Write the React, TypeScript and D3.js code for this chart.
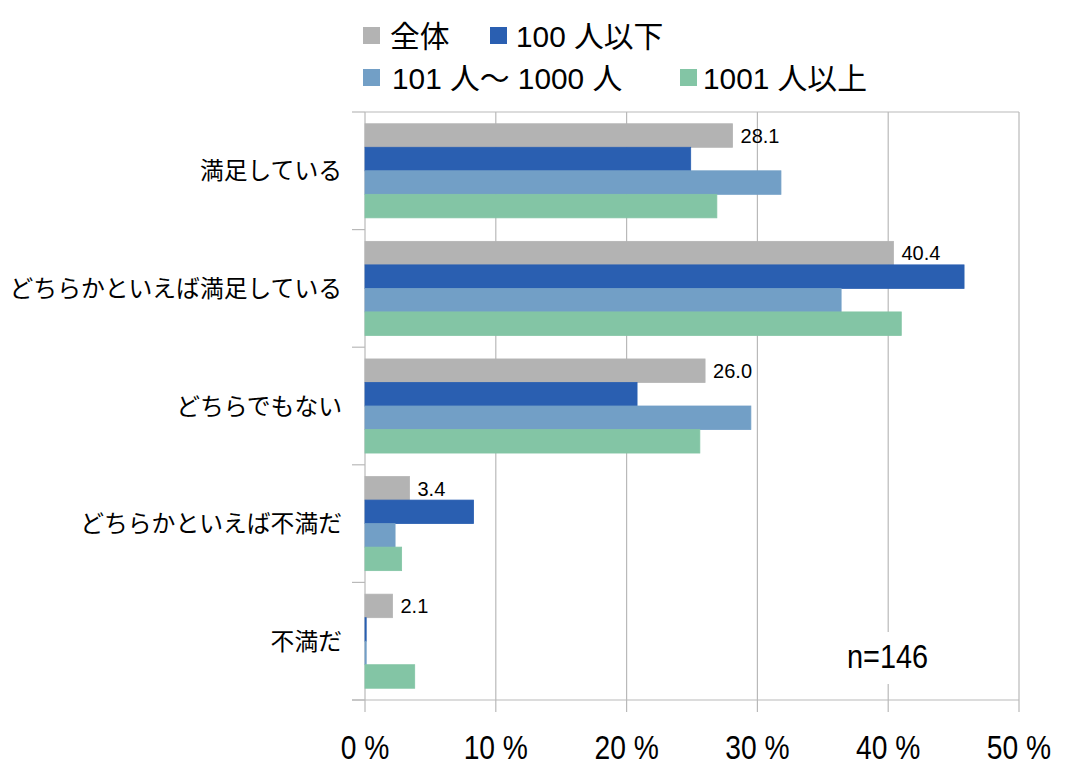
import * as d3 from "d3";
import { useEffect, useRef } from "react";

const categories = [
  "満足している",
  "どちらかといえば満足している",
  "どちらでもない",
  "どちらかといえば不満だ",
  "不満だ",
];

const seriesNames = ["全体", "100 人以下", "101 人〜 1000 人", "1001 人以上"];
const seriesColors = ["#b3b3b3", "#2a5fb1", "#729fc6", "#83c5a5"];

const totalValues = [28.1, 40.4, 26.0, 3.4, 2.1];
const smallValues = [24.9, 45.8, 20.8, 8.3, 0];
const midValues = [31.8, 36.4, 29.5, 2.3, 0];
const largeValues = [26.9, 41.0, 25.6, 2.8, 3.8];

const xTicks = [0, 10, 20, 30, 40, 50];
const sampleNote = "n=146";

const LATIN = "'Liberation Sans', 'Noto Sans CJK JP', sans-serif";

export default function App() {
  const ref = useRef<SVGSVGElement | null>(null);

  useEffect(() => {
    if (!ref.current) return;
    const svg = d3.select(ref.current);
    svg.selectAll("*").remove();

    const W = 1068;
    const H = 780;
    const plot = { left: 365, right: 1019, top: 112, bottom: 700 };

    svg.attr("width", W).attr("height", H);

    const allSeries = [totalValues, smallValues, midValues, largeValues];

    const x = d3.scaleLinear().domain([0, 50]).range([plot.left, plot.right]);
    const y = d3
      .scaleBand<string>()
      .domain(categories)
      .range([plot.top, plot.bottom])
      .padding(0);
    const ySub = d3
      .scaleBand<string>()
      .domain(seriesNames)
      .range([0, y.bandwidth()])
      .paddingInner(0)
      .paddingOuter(0.5);

    const grid = "#b9b9b9";

    // vertical gridlines
    svg
      .append("g")
      .selectAll("line")
      .data(xTicks.slice(1))
      .enter()
      .append("line")
      .attr("x1", (d) => x(d))
      .attr("x2", (d) => x(d))
      .attr("y1", plot.top)
      .attr("y2", plot.bottom + 12)
      .attr("stroke", grid)
      .attr("stroke-width", 1.2);

    // top border
    svg
      .append("line")
      .attr("x1", plot.left)
      .attr("x2", plot.right)
      .attr("y1", plot.top)
      .attr("y2", plot.top)
      .attr("stroke", grid)
      .attr("stroke-width", 1.2);

    // left axis + category ticks
    svg
      .append("line")
      .attr("x1", plot.left)
      .attr("x2", plot.left)
      .attr("y1", plot.top)
      .attr("y2", plot.bottom + 12)
      .attr("stroke", grid)
      .attr("stroke-width", 1.2);

    const bounds = categories.map((c) => y(c)!).concat([plot.bottom]);
    svg
      .append("g")
      .selectAll("line")
      .data(bounds)
      .enter()
      .append("line")
      .attr("x1", plot.left - 13)
      .attr("x2", plot.left)
      .attr("y1", (d) => d)
      .attr("y2", (d) => d)
      .attr("stroke", grid)
      .attr("stroke-width", 1.2);

    svg
      .append("line")
      .attr("x1", plot.left - 13)
      .attr("x2", plot.right)
      .attr("y1", plot.bottom)
      .attr("y2", plot.bottom)
      .attr("stroke", grid)
      .attr("stroke-width", 1.2);

    // bars (zero values still show as a hairline, like the original)
    allSeries.forEach((vals, si) => {
      const name = seriesNames[si];
      svg
        .append("g")
        .selectAll("rect")
        .data(vals)
        .enter()
        .append("rect")
        .attr("x", x(0))
        .attr("y", (_, i) => y(categories[i])! + ySub(name)!)
        .attr("width", (d) => Math.max(x(d) - x(0), 1.2))
        .attr("height", ySub.bandwidth())
        .attr("fill", seriesColors[si])
        .attr("stroke", seriesColors[si])
        .attr("stroke-width", 0.8);
    });

    // value labels for 全体
    svg
      .append("g")
      .selectAll("text")
      .data(totalValues)
      .enter()
      .append("text")
      .attr("x", (d) => x(d) + 8)
      .attr("y", (_, i) => y(categories[i])! + ySub(seriesNames[0])! + ySub.bandwidth() / 2)
      .attr("dy", "0.36em")
      .attr("font-family", LATIN)
      .attr("font-size", 20)
      .attr("fill", "#000")
      .text((d) => d.toFixed(1));

    // category labels
    svg
      .append("g")
      .selectAll("text")
      .data(categories)
      .enter()
      .append("text")
      .attr("x", 342)
      .attr("y", (d) => y(d)! + y.bandwidth() / 2)
      .attr("dy", "0.36em")
      .attr("text-anchor", "end")
      .attr("font-family", "'Noto Sans CJK JP', sans-serif")
      .attr("font-size", 23.8)
      .attr("fill", "#000")
      .text((d) => d);

    // x tick labels (condensed)
    svg
      .append("g")
      .selectAll("text")
      .data(xTicks)
      .enter()
      .append("text")
      .attr("transform", (d) => `translate(${x(d)},759) scale(0.83,1)`)
      .attr("text-anchor", "middle")
      .attr("font-family", LATIN)
      .attr("font-size", 34)
      .attr("fill", "#000")
      .text((d) => `${d} %`);

    // n note with white background
    svg
      .append("rect")
      .attr("x", 842)
      .attr("y", 632)
      .attr("width", 95)
      .attr("height", 52)
      .attr("fill", "#fff");
    svg
      .append("text")
      .attr("transform", "translate(847,668) scale(0.85,1)")
      .attr("font-family", LATIN)
      .attr("font-size", 34)
      .attr("fill", "#000")
      .text(sampleNote);

    // legend
    const legendPos = [
      { sx: 363, sy: 27, tx: 390, ty: 47 },
      { sx: 490, sy: 27, tx: 516, ty: 47 },
      { sx: 363, sy: 69, tx: 392, ty: 89 },
      { sx: 680, sy: 69, tx: 703, ty: 89 },
    ];
    const legend = svg.append("g");
    seriesNames.forEach((name, i) => {
      const p = legendPos[i];
      legend
        .append("rect")
        .attr("x", p.sx)
        .attr("y", p.sy)
        .attr("width", 17)
        .attr("height", 17)
        .attr("fill", seriesColors[i]);
      legend
        .append("text")
        .attr("x", p.tx)
        .attr("y", p.ty)
        .attr("font-family", LATIN)
        .attr("font-size", 29.8)
        .attr("fill", "#000")
        .text(name);
    });
  }, []);

  return (
    <svg
      ref={ref}
      style={{ position: "absolute", left: 0, top: 0, background: "#fff" }}
    ></svg>
  );
}
